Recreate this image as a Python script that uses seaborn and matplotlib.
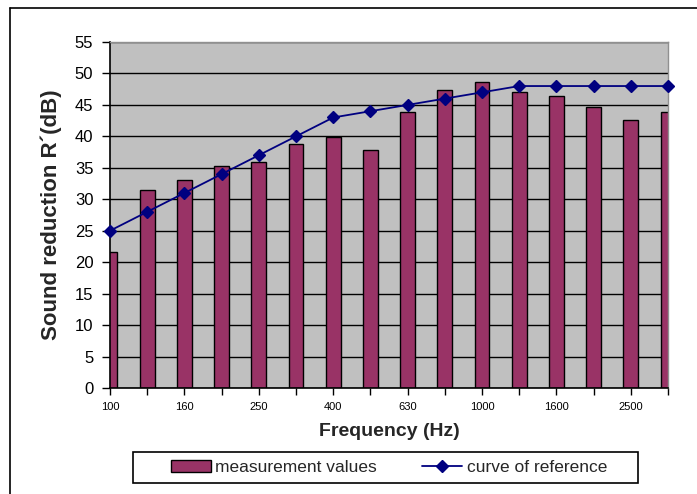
import numpy as np
import pandas as pd
import matplotlib
matplotlib.use("Agg")
import matplotlib.pyplot as plt
from matplotlib.lines import Line2D
from matplotlib.patches import Rectangle, Patch
import seaborn as sns

# third-octave bands (Hz)
frequencies = ["100", "125", "160", "200", "250", "315", "400", "500",
               "630", "800", "1000", "1250", "1600", "2000", "2500", "3150"]
measured = [21.6, 31.5, 33.1, 35.3, 36.0, 38.8, 39.9, 37.8,
            43.8, 47.4, 48.7, 47.0, 46.4, 44.6, 42.6, 43.9]
reference = [25, 28, 31, 34, 37, 40, 43, 44,
             45, 46, 47, 48, 48, 48, 48, 48]
shown_labels = ["100", "160", "250", "400", "630", "1000", "1600", "2500"]
y_ticks = list(range(0, 60, 5))

bar_color = "#993366"
line_color = "#000080"

sns.set_style("ticks")
plt.rcParams["font.family"] = ["Liberation Sans", "DejaVu Sans"]

df = pd.DataFrame({"freq": frequencies, "measured": measured, "reference": reference})

fig = plt.figure(figsize=(6.97, 4.94), dpi=100)
ax = fig.add_axes([110 / 697, 1 - 388 / 494, 558 / 697, 346 / 494])
ax.set_facecolor("#C0C0C0")

sns.barplot(data=df, x="freq", y="measured", order=frequencies, color=bar_color,
            saturation=1, width=0.4, edgecolor="black", linewidth=1, ax=ax, zorder=2)
sns.pointplot(data=df, x="freq", y="reference", order=frequencies, color=line_color,
              markers="D", linestyles="-", markersize=6.5, linewidth=1.3,
              clip_on=False, zorder=4, ax=ax)

ax.set_xlim(0, len(frequencies) - 1)
ax.set_ylim(0, 55)
ax.set_yticks(y_ticks)
ax.set_xticks(range(len(frequencies)))
ax.set_xticklabels([f if f in shown_labels else "" for f in frequencies])

ax.yaxis.grid(True, color="black", linewidth=1)
ax.xaxis.grid(False)
ax.set_axisbelow(True)

for side in ["left", "bottom"]:
    ax.spines[side].set_color("black")
    ax.spines[side].set_linewidth(1.2)
for side in ["top", "right"]:
    ax.spines[side].set_visible(True)
    ax.spines[side].set_color("#909090")
    ax.spines[side].set_linewidth(1)

ax.tick_params(axis="y", direction="out", length=6, width=1, labelsize=12, pad=6, colors="black")
ax.tick_params(axis="x", direction="out", length=5, width=1, labelsize=8, pad=5, colors="black")

ax.set_xlabel("Frequency (Hz)", fontsize=14, fontweight="bold", labelpad=8)
ax.set_ylabel("Sound reduction R´(dB)", fontsize=16, fontweight="bold", labelpad=9)

handles = [Patch(facecolor=bar_color, edgecolor="black"),
           Line2D([], [], color=line_color, marker="D", markersize=6.5, linewidth=1.3)]
fig.legend(handles, ["measurement values", "curve of reference"], loc="center",
           bbox_to_anchor=(389 / 697, 1 - 467.5 / 494), ncol=2, frameon=False,
           fontsize=12.5, handlelength=2.3, handletextpad=0.25, columnspacing=2.6)
fig.add_artist(Rectangle((133 / 697, 1 - 483 / 494), 505 / 697, 31 / 494,
                         transform=fig.transFigure, facecolor="none",
                         edgecolor="black", linewidth=1.2))

# outer chart frame (cropped at right and bottom)
fig.add_artist(Line2D([10 / 697, 10 / 697], [0, 1 - 8 / 494], transform=fig.transFigure,
                      color="black", linewidth=1.2))
fig.add_artist(Line2D([10 / 697, 1], [1 - 8 / 494, 1 - 8 / 494], transform=fig.transFigure,
                      color="black", linewidth=1.2))

fig.savefig("out.png", dpi=100)
